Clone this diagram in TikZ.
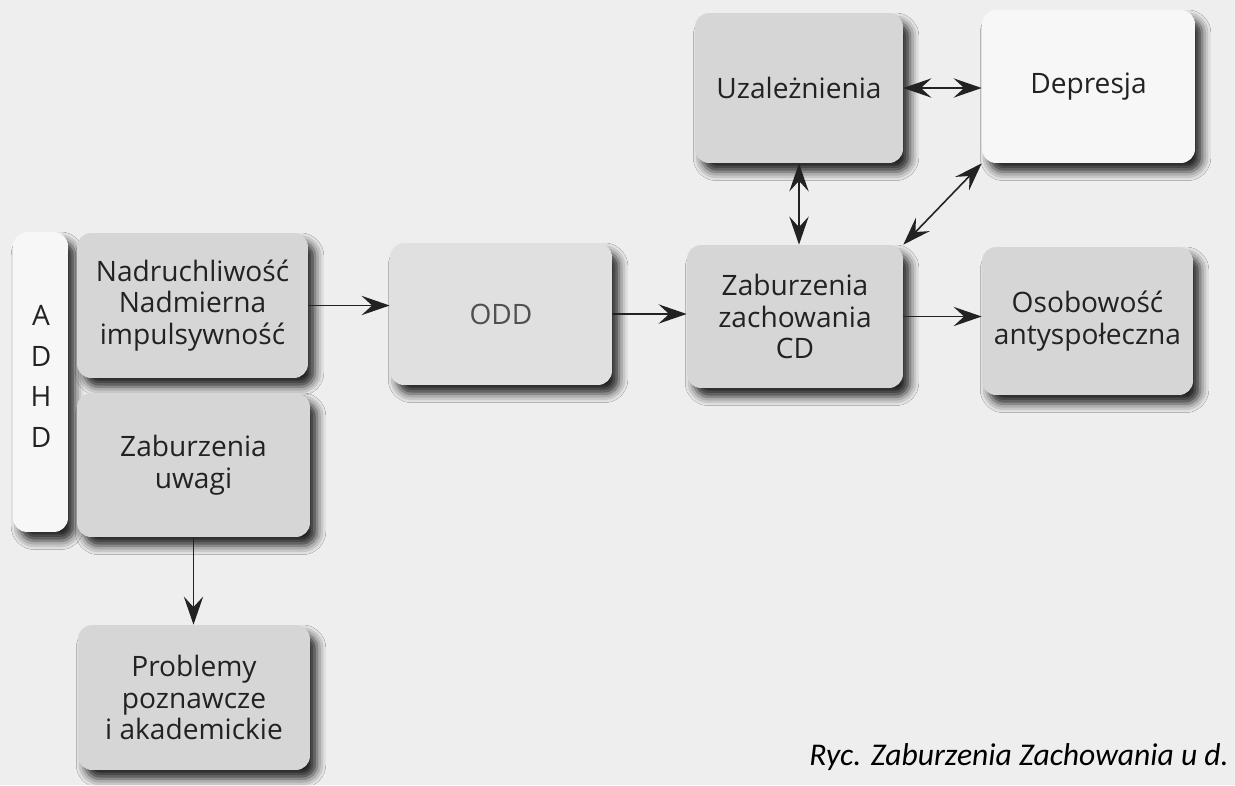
\documentclass[tikz,border=0pt]{standalone}
\usepackage{fontspec}
\setmainfont{Open Sans}
\newfontfamily\rycfont{Carlito}
\usetikzlibrary{arrows.meta,positioning,shadows.blur}
\definecolor{RycInk}{HTML}{222222}
\definecolor{RycGrey}{HTML}{505050}
\definecolor{RycPaper}{HTML}{EEEEEE}
\definecolor{RycBox}{HTML}{D6D6D6}
\definecolor{RycPale}{HTML}{E0E0E0}
\definecolor{RycWhite}{HTML}{F7F7F7}

\begin{document}
\begin{tikzpicture}[
    x=0.02cm, y=-0.02cm,
    font=\fontsize{16}{18}\selectfont,
    card/.style={rounded corners=8pt,fill=RycBox,text=RycInk,align=center,inner sep=0pt,
      blur shadow={shadow xshift=4pt,shadow yshift=-5pt,shadow blur radius=5pt,shadow opacity=85}},
    link/.style={draw=RycInk,line width=0.9pt,-{Stealth[length=16pt,width=11pt,inset=6pt]}},
    twoway/.style={draw=RycInk,line width=0.9pt,{Stealth[length=16pt,width=11pt,inset=6pt]}-{Stealth[length=16pt,width=11pt,inset=6pt]}}
  ]
  \clip (0,0) rectangle (1235,785);
  \fill[RycPaper] (0,0) rectangle (1235,785);

  % ADHD strip and its two parts
  \node[card,fill=RycWhite,minimum width=1.1cm,minimum height=6.0cm] (adhd) at (40.5,382) {};
  \node[align=center,text=RycInk,font=\fontsize{16}{23.2}\selectfont] (adhdtext) at (41,376.5) {A\\D\\H\\D};
  \node[card,minimum width=4.62cm,minimum height=2.9cm] (hyper) at (192.5,305.5)
    {Nadruchliwość\\Nadmierna\\impulsywność};
  \node[card,minimum width=4.66cm,minimum height=2.88cm] (uwagi) at (193.5,465)
    {Zaburzenia\\uwagi};
  \node[card,minimum width=4.64cm,minimum height=2.9cm] (probl) at (194,697.5)
    {Problemy\\poznawcze\\i akademickie};

  \node[card,fill=RycPale,text=RycGrey,minimum width=4.44cm,minimum height=2.84cm] (odd) at (501,314) {ODD};
  \node[card,minimum width=4.32cm,minimum height=2.86cm] (cd) at (795,316.5)
    {Zaburzenia\\zachowania\\CD};
  \node[card,minimum width=4.16cm,minimum height=3.0cm] (uzal) at (799,88) {Uzależnienia};
  \node[card,fill=RycWhite,minimum width=4.26cm,minimum height=3.06cm] (depr) at (1088.5,86.5) {Depresja};
  \node[card,minimum width=4.22cm,minimum height=2.96cm] (osob) at (1087.5,321)
    {Osobowość\\antyspołeczna};

  % connectors
  \draw[link] (hyper.east) -- (hyper.east -| odd.west);
  \draw[link] (odd.east) -- (odd.east -| cd.west);
  \draw[link] (cd.east) -- (cd.east -| osob.west);
  \draw[link] (uwagi.south) -- (uwagi.south |- probl.north);
  \draw[twoway] (uzal.east) -- (uzal.east -| depr.west);
  \draw[twoway] (uzal.south) -- (uzal.south |- cd.north);
  \draw[twoway] (cd.north east) -- (depr.south west);

  \node[anchor=east,font=\rycfont\itshape\fontsize{18}{21}\selectfont,text=black] (ryc) at (1235,757)
    {Ryc. Zaburzenia Zachowania u d.};
\end{tikzpicture}
\end{document}
